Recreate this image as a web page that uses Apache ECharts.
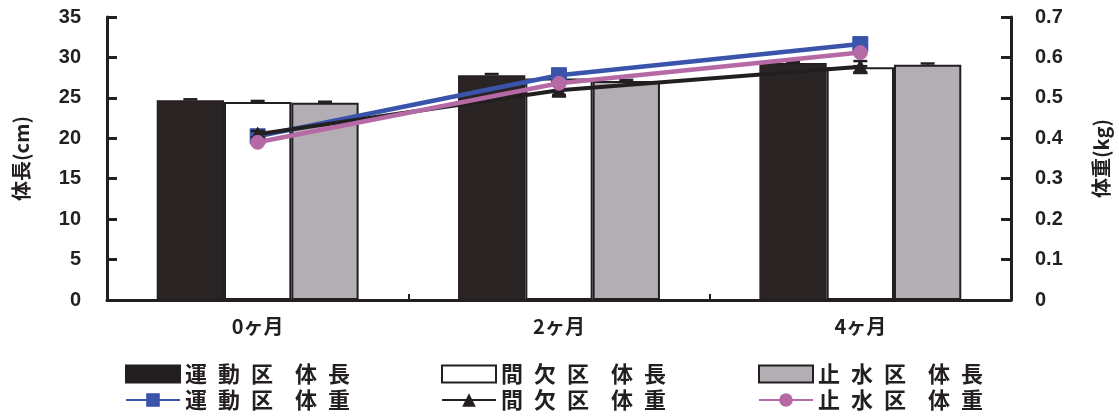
<!DOCTYPE html>
<html>
<head>
<meta charset="utf-8">
<script src="https://cdn.jsdelivr.net/npm/echarts@6/dist/echarts.min.js"></script>
<style>
html,body{margin:0;padding:0;background:#fff;}
#chart{width:1119px;height:417px;}
</style>
</head>
<body>
<div id="chart"></div>
<script>
// ---- data ----
const categories = ['0ヶ月', '2ヶ月', '4ヶ月'];
const lengthTicksLeft = [0, 5, 10, 15, 20, 25, 30, 35];
const weightTicksRight = [0, 0.1, 0.2, 0.3, 0.4, 0.5, 0.6, 0.7];

const lenUndo = [24.7, 27.8, 29.3];       // 運動区 体長
const lenKanketsu = [24.5, 27.4, 28.8];   // 間欠区 体長
const lenShisui = [24.4, 27.1, 29.1];     // 止水区 体長
const lenErrUndo = [0.12, 0.15, 0.15];
const lenErrKanketsu = [0.12, 0.12, 0.12];
const lenErrShisui = [0.12, 0.12, 0.15];

const wtUndo = [0.405, 0.556, 0.633];     // 運動区 体重
const wtKanketsu = [0.41, 0.519, 0.577];  // 間欠区 体重
const wtShisui = [0.39, 0.536, 0.612];    // 止水区 体重
const wtErrKanketsu = [0.008, 0.012, 0.014];

const names = {
  lenUndo: '運動区　体長', lenKanketsu: '間欠区　体長', lenShisui: '止水区　体長',
  wtUndo: '運動区　体重', wtKanketsu: '間欠区　体重', wtShisui: '止水区　体重'
};

// ---- styles ----
const INK = '#231f20';
const BLUE = '#3a54ab';
const PINK = '#b56aa6';
const GRAY = '#b3adb4';
const JP = '"Noto Sans CJK JP", "Noto Sans", sans-serif';
const NUM = '"Liberation Sans", Arial, sans-serif';

function errSeries(vals, errs, barIndex, yAxisIndex, plusOnly, z) {
  return {
    type: 'custom',
    yAxisIndex: yAxisIndex,
    z: z,
    silent: true,
    encode: {x: 0, y: 1},
    data: vals.map((v, i) => [i, v, errs[i]]),
    renderItem: function (params, api) {
      const cat = api.value(0), v = api.value(1), e = api.value(2);
      const top = api.coord([cat, v + e]);
      const bot = api.coord([cat, plusOnly ? v : v - e]);
      const band = api.size([1, 0])[0];
      let dx = 0;
      if (barIndex != null) {
        const bw = band * (1 - 0.33) / 3;
        dx = (barIndex - 1) * bw;
      }
      const x = top[0] + dx;
      const hw = 7;
      const st = {stroke: INK, lineWidth: 2.5};
      const children = [
        {type: 'line', shape: {x1: x, y1: top[1], x2: x, y2: bot[1]}, style: st},
        {type: 'line', shape: {x1: x - hw, y1: top[1], x2: x + hw, y2: top[1]}, style: st}
      ];
      if (!plusOnly) {
        children.push({type: 'line', shape: {x1: x - hw, y1: bot[1], x2: x + hw, y2: bot[1]}, style: st});
      }
      return {type: 'group', children: children};
    }
  };
}

// spaced-out legend lettering, as in the original figure
function legendText(name) {
  return name.split('\u3000').map(w => w.split('').join('\u2002')).join('\u2002\u2002');
}

function makeLegend(left, data) {
  return {
    orient: 'vertical',
    left: left,
    top: 363,
    height: 54,
    itemWidth: 54,
    itemHeight: 17,
    itemGap: 4,
    itemTextGap: 8,
    padding: 0,
    selectedMode: false,
    formatter: legendText,
    textStyle: {fontFamily: JP, fontWeight: 'bold', fontSize: 22, lineHeight: 22, color: INK},
    data: data
  };
}

const chart = echarts.init(document.getElementById('chart'), null, {renderer: 'canvas'});
chart.setOption({
  animation: false,
  backgroundColor: '#ffffff',
  grid: {left: 107, right: 106, top: 17, bottom: 117, containLabel: false},
  legend: [
    makeLegend(125, [
      {name: names.lenUndo, icon: 'rect', itemStyle: {color: INK, borderColor: INK, borderWidth: 2}},
      {name: names.wtUndo}
    ]),
    makeLegend(441, [
      {name: names.lenKanketsu, icon: 'rect', itemStyle: {color: '#ffffff', borderColor: INK, borderWidth: 2}},
      {name: names.wtKanketsu}
    ]),
    makeLegend(758, [
      {name: names.lenShisui, icon: 'rect', itemStyle: {color: GRAY, borderColor: INK, borderWidth: 2}},
      {name: names.wtShisui}
    ])
  ],
  xAxis: {
    type: 'category',
    data: categories,
    boundaryGap: true,
    axisLine: {show: true, lineStyle: {color: INK, width: 3}},
    axisTick: {show: true, inside: true, length: 6, interval: 0, lineStyle: {color: INK, width: 2}},
    axisLabel: {fontFamily: JP, fontWeight: 'bold', fontSize: 20, color: INK, margin: 16},
    splitLine: {show: false}
  },
  yAxis: [
    {
      type: 'value',
      min: lengthTicksLeft[0], max: lengthTicksLeft[lengthTicksLeft.length - 1], interval: 5,
      name: '体長(cm)',
      nameLocation: 'middle',
      nameRotate: 90,
      nameGap: 76,
      nameTextStyle: {fontFamily: JP, fontWeight: 'bold', fontSize: 20, color: INK},
      axisLine: {show: true, lineStyle: {color: INK, width: 3}},
      axisTick: {show: true, inside: true, length: 10, lineStyle: {color: INK, width: 3}},
      axisLabel: {fontFamily: NUM, fontWeight: 'bold', fontSize: 20, color: INK, margin: 26},
      splitLine: {show: false}
    },
    {
      type: 'value',
      min: weightTicksRight[0], max: weightTicksRight[weightTicksRight.length - 1], interval: 0.1,
      position: 'right',
      name: '体重(kg)',
      nameLocation: 'middle',
      nameRotate: 90,
      nameGap: 80,
      nameTextStyle: {fontFamily: JP, fontWeight: 'bold', fontSize: 20, color: INK},
      axisLine: {show: true, lineStyle: {color: INK, width: 3}},
      axisTick: {show: true, inside: true, length: 10, lineStyle: {color: INK, width: 3}},
      axisLabel: {fontFamily: NUM, fontWeight: 'bold', fontSize: 20, color: INK, margin: 24,
        formatter: v => (v === 0 ? '0' : v.toFixed(1))},
      splitLine: {show: false}
    }
  ],
  series: [
    {name: names.lenUndo, type: 'bar', data: lenUndo, barGap: '0%', barCategoryGap: '33%', z: 2,
      itemStyle: {color: '#2a2425', borderColor: INK, borderWidth: 1.5}},
    {name: names.lenKanketsu, type: 'bar', data: lenKanketsu, z: 2,
      itemStyle: {color: '#ffffff', borderColor: INK, borderWidth: 2}},
    {name: names.lenShisui, type: 'bar', data: lenShisui, z: 2,
      itemStyle: {color: GRAY, borderColor: INK, borderWidth: 2}},
    errSeries(lenUndo, lenErrUndo, 0, 0, true, 3),
    errSeries(lenKanketsu, lenErrKanketsu, 1, 0, true, 3),
    errSeries(lenShisui, lenErrShisui, 2, 0, true, 3),
    {name: names.wtUndo, type: 'line', yAxisIndex: 1, data: wtUndo, z: 4,
      symbol: 'rect', symbolSize: 15,
      lineStyle: {color: BLUE, width: 4.5}, itemStyle: {color: BLUE, borderColor: BLUE}},
    errSeries(wtKanketsu, wtErrKanketsu, null, 1, false, 5),
    {name: names.wtKanketsu, type: 'line', yAxisIndex: 1, data: wtKanketsu, z: 5,
      symbol: 'triangle', symbolSize: 14,
      lineStyle: {color: INK, width: 4}, itemStyle: {color: INK, borderColor: INK}},
    {name: names.wtShisui, type: 'line', yAxisIndex: 1, data: wtShisui, z: 6,
      symbol: 'circle', symbolSize: 14,
      lineStyle: {color: PINK, width: 4.5}, itemStyle: {color: PINK, borderColor: PINK}}
  ]
});
</script>
</body>
</html>
